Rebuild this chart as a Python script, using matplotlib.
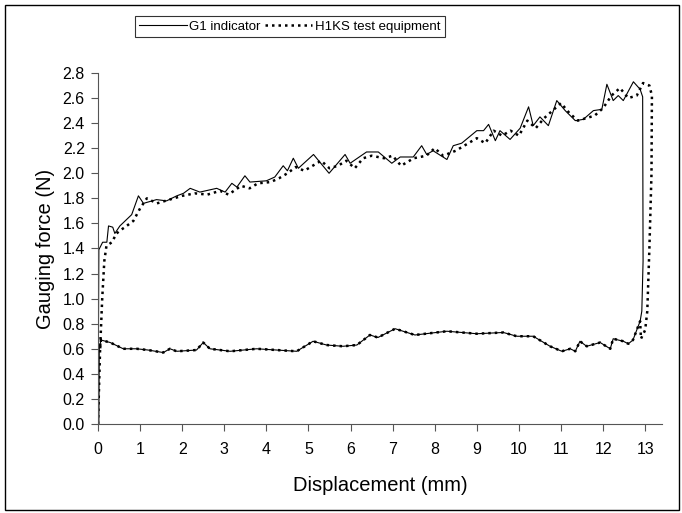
import numpy as np
import matplotlib.pyplot as plt
from matplotlib.patches import Rectangle

plt.rcParams['font.family'] = ['Liberation Sans', 'DejaVu Sans']

# G1 indicator, loading branch (mm, N)
g1_up_x = [0.0, 0.02, 0.11, 0.21, 0.25, 0.35, 0.4, 0.52, 0.8, 0.96, 1.08, 1.39, 1.63, 1.87,
           2.03, 2.19, 2.42, 2.82, 3.02, 3.18, 3.3, 3.49, 3.61, 4.0, 4.2, 4.4, 4.5, 4.64,
           4.76, 5.12, 5.49, 5.87, 5.99, 6.38, 6.66, 6.98, 7.18, 7.49, 7.69, 7.81, 7.96,
           8.29, 8.44, 8.64, 9.0, 9.16, 9.28, 9.44, 9.55, 9.79, 10.03, 10.23, 10.34, 10.5,
           10.7, 10.9, 11.1, 11.34, 11.53, 11.77, 11.97, 12.09, 12.24, 12.36, 12.48, 12.72,
           12.88, 12.94, 12.95, 12.92]
g1_up_y = [0.0, 1.39, 1.45, 1.45, 1.58, 1.57, 1.52, 1.58, 1.67, 1.82, 1.76, 1.79, 1.78, 1.82,
           1.84, 1.88, 1.85, 1.88, 1.85, 1.92, 1.89, 1.98, 1.93, 1.94, 1.97, 2.06, 2.02, 2.12,
           2.04, 2.15, 2.0, 2.15, 2.08, 2.17, 2.17, 2.08, 2.13, 2.13, 2.22, 2.15, 2.18,
           2.11, 2.22, 2.24, 2.34, 2.34, 2.39, 2.26, 2.34, 2.27, 2.36, 2.53, 2.38, 2.45,
           2.38, 2.58, 2.5, 2.42, 2.43, 2.5, 2.51, 2.71, 2.58, 2.62, 2.58, 2.73,
           2.67, 2.61, 1.3, 0.9]

# H1KS test equipment, loading branch
h1_up_x = [0.0, 0.05, 0.1, 0.15, 0.2, 0.33, 0.44, 0.55, 0.64, 0.84, 1.0, 1.16, 1.4, 1.6, 1.8,
           2.0, 2.3, 2.6, 2.9, 3.1, 3.4, 3.6, 3.8, 4.1, 4.3, 4.5, 4.7, 4.9, 5.1, 5.3, 5.5,
           5.7, 5.9, 6.1, 6.3, 6.5, 6.8, 7.0, 7.2, 7.5, 7.8, 8.0, 8.2, 8.5, 8.8, 9.0, 9.2,
           9.4, 9.6, 9.8, 10.0, 10.2, 10.4, 10.6, 10.8, 11.0, 11.2, 11.4, 11.6, 11.8, 12.0,
           12.2, 12.4, 12.6, 12.8, 12.95, 13.1, 13.16, 13.15, 13.1, 13.05, 13.0, 12.9]
h1_up_y = [0.0, 0.6, 1.0, 1.3, 1.42, 1.45, 1.52, 1.55, 1.57, 1.62, 1.72, 1.80, 1.76, 1.78, 1.80,
           1.82, 1.84, 1.83, 1.86, 1.83, 1.90, 1.88, 1.92, 1.93, 1.96, 2.0, 2.05, 2.02, 2.06, 2.10, 2.04,
           2.06, 2.10, 2.04, 2.12, 2.14, 2.12, 2.14, 2.06, 2.12, 2.14, 2.20, 2.14, 2.18, 2.24, 2.28, 2.24,
           2.34, 2.30, 2.34, 2.30, 2.42, 2.36, 2.44, 2.50, 2.56, 2.48, 2.42, 2.44, 2.46, 2.52,
           2.62, 2.68, 2.60, 2.62, 2.72, 2.70, 2.62, 2.0, 1.4, 0.9, 0.75, 0.68]

# unloading branch (both instruments almost identical)
down_x = [0.07, 0.29, 0.6, 0.92, 1.19, 1.55, 1.71, 1.87, 2.34, 2.5, 2.66, 3.14, 3.77, 4.72,
          5.11, 5.43, 5.82, 6.15, 6.46, 6.65, 7.06, 7.53, 8.29, 9.0, 9.63, 9.95, 10.34,
          10.74, 11.02, 11.22, 11.34, 11.45, 11.61, 11.93, 12.17, 12.24, 12.48, 12.6,
          12.71, 12.8, 12.88]
down_y = [0.67, 0.65, 0.60, 0.60, 0.59, 0.57, 0.60, 0.58, 0.59, 0.65, 0.60, 0.58, 0.60, 0.58,
          0.66, 0.63, 0.62, 0.63, 0.71, 0.69, 0.76, 0.71, 0.74, 0.72, 0.73, 0.70, 0.70,
          0.62, 0.58, 0.60, 0.58, 0.66, 0.62, 0.65, 0.60, 0.68, 0.66, 0.64,
          0.67, 0.75, 0.82]

g1_x = g1_up_x + down_x[::-1] + [0.03, 0.02]
g1_y = g1_up_y + down_y[::-1] + [0.6, 0.0]
h1_x = h1_up_x + down_x[::-1] + [0.05]
h1_y = h1_up_y + down_y[::-1] + [0.6]

fig = plt.figure(figsize=(6.82, 5.13), dpi=100)
ax = fig.add_axes([0.1437, 0.1735, 0.827, 0.6842])

ax.plot(g1_x, g1_y, color='black', lw=0.8, label='G1 indicator')
ax.plot(h1_x, h1_y, color='black', lw=1.8, linestyle=(0, (1, 1.6)), label='H1KS test equipment')

ax.set_xlim(0, 13.4)
ax.set_ylim(0, 2.8)
ax.set_xticks(np.arange(0, 14, 1))
ax.set_yticks(np.arange(0, 2.81, 0.2))
ax.set_yticklabels(['%.1f' % v for v in np.arange(0, 2.81, 0.2)])
ax.spines['top'].set_visible(False)
ax.spines['right'].set_visible(False)
ax.spines['left'].set_color('#555555')
ax.spines['bottom'].set_color('#555555')
ax.tick_params(direction='out', length=5, width=0.8, labelsize=11.5, color='#555555')
ax.tick_params(axis='x', pad=7.8)
ax.tick_params(axis='y', pad=4.5)
ax.set_xlabel('Displacement (mm)', fontsize=14.5, labelpad=14)
ax.set_ylabel('Gauging force (N)', fontsize=14.5, labelpad=5)

leg = fig.legend(loc='center', bbox_to_anchor=(0.425, 0.948), ncol=2, fontsize=9.5,
                 frameon=True, fancybox=False, edgecolor='black', handlelength=3.6,
                 handletextpad=0.2, columnspacing=0.3, borderpad=0.35)
leg.get_frame().set_linewidth(0.8)

fig.patches.append(Rectangle((5 / 682, 3 / 513), 674 / 682, 505 / 513, transform=fig.transFigure,
                             fill=False, edgecolor='black', lw=1.0))

fig.savefig('out.png', dpi=100)
